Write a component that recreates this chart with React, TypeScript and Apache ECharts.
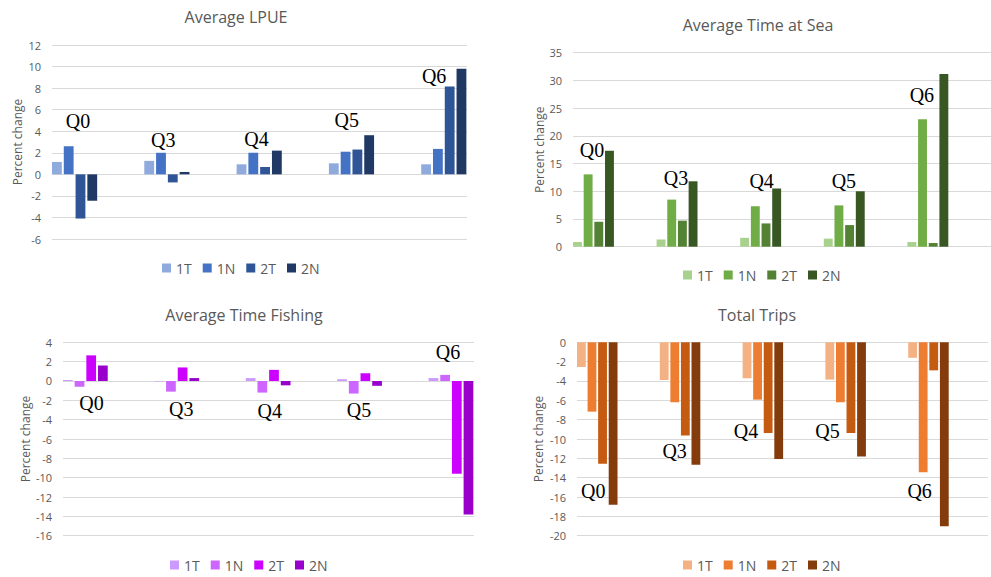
import React, { useEffect, useRef } from "react";
import * as echarts from "echarts";

// ---------- data ----------
const categories = ["Q0", "Q3", "Q4", "Q5", "Q6"];
const seriesNames = ["1T", "1N", "2T", "2N"];

// Average LPUE (percent change)
const lpue1T = [1.15, 1.25, 0.93, 1.02, 0.93];
const lpue1N = [2.6, 2.0, 2.0, 2.1, 2.36];
const lpue2T = [-4.1, -0.75, 0.68, 2.3, 8.14];
const lpue2N = [-2.45, 0.22, 2.2, 3.63, 9.8];

// Average Time at Sea
const sea1T = [0.84, 1.3, 1.6, 1.45, 0.84];
const sea1N = [13.05, 8.5, 7.3, 7.45, 23.0];
const sea2T = [4.5, 4.7, 4.2, 3.9, 0.66];
const sea2N = [17.3, 11.8, 10.5, 10.0, 31.15];

// Average Time Fishing
const fish1T = [0.1, -0.05, 0.3, 0.18, 0.3];
const fish1N = [-0.6, -1.1, -1.2, -1.3, 0.63];
const fish2T = [2.65, 1.4, 1.15, 0.8, -9.6];
const fish2N = [1.6, 0.3, -0.45, -0.5, -13.8];

// Total Trips
const trips1T = [-2.55, -3.9, -3.72, -3.86, -1.6];
const trips1N = [-7.17, -6.2, -5.93, -6.2, -13.45];
const trips2T = [-12.55, -9.65, -9.38, -9.38, -2.9];
const trips2N = [-16.8, -12.65, -12.07, -11.8, -19.03];

// value level at which each Q annotation sits
const lpueLabelY = [4.95, 3.2, 3.3, 5.0, 9.1];
const seaLabelY = [17.5, 12.4, 11.9, 11.9, 27.4];
const fishLabelY = [-2.3, -2.9, -3.15, -3.0, 3.0];
const tripsLabelY = [-15.4, -11.2, -9.15, -9.15, -15.4];

// ---------- layout / style ----------
const panels = [
  {
    key: "lpue", title: "Average LPUE", values: [lpue1T, lpue1N, lpue2T, lpue2N], labelY: lpueLabelY,
    labelDx: [21, 14, 15, 13, 8],
    colors: ["#8FAADC", "#4472C4", "#2F5597", "#203864"],
    min: -6, max: 12, interval: 2,
    left: 52, top: 45, h: 194, band: 92.3, gridW: 415, nameGap: 29,
    titleX: 236, titleTop: 4, legendLeft: 157, legendTop: 256,
  },
  {
    key: "sea", title: "Average Time at Sea", values: [sea1T, sea1N, sea2T, sea2N], labelY: seaLabelY,
    labelDx: [14.5, 15, 17, 15.6, 10],
    colors: ["#A9D18E", "#70AD47", "#548235", "#385723"],
    min: 0, max: 35, interval: 5,
    left: 573, top: 52.7, h: 194, band: 92.2, gridW: 418, nameGap: 28,
    titleX: 758, titleTop: 12, legendLeft: 678, legendTop: 263,
  },
  {
    key: "fish", title: "Average Time Fishing", values: [fish1T, fish1N, fish2T, fish2N], labelY: fishLabelY,
    labelDx: [23.6, 22, 19, 17, 14.6],
    colors: ["#CC99FF", "#CC66FF", "#CC00FF", "#9900CC"],
    min: -16, max: 4, interval: 2,
    left: 63, top: 342.3, h: 193.4, band: 91.4, gridW: 411, nameGap: 32,
    titleX: 244, titleTop: 302, legendLeft: 165, legendTop: 553,
  },
  {
    key: "trips", title: "Total Trips", values: [trips1T, trips1N, trips2T, trips2N], labelY: tripsLabelY,
    labelDx: [11.8, 10.4, -1, -2.4, 7],
    colors: ["#F4B183", "#ED7D31", "#C55A11", "#843C0C"],
    min: -20, max: 0, interval: 2,
    left: 577, top: 342.3, h: 193.4, band: 91.4, gridW: 411, nameGap: 33,
    titleX: 757, titleTop: 302, legendLeft: 678, legendTop: 553,
  },
];

const FONT = "'Open Sans', 'Liberation Sans', sans-serif";
const GREY = "#595959";

function buildOption() {
  const grid: any[] = [];
  const xAxis: any[] = [];
  const yAxis: any[] = [];
  const series: any[] = [];
  const title: any[] = [];
  const legend: any[] = [];

  panels.forEach((p, idx) => {
    const gA = idx * 2;
    const gB = idx * 2 + 1;
    grid.push({ left: p.left, top: p.top, width: p.band * 5, height: p.h, containLabel: false });
    grid.push({ left: p.left, top: p.top, width: p.gridW, height: p.h, containLabel: false });

    xAxis.push({ gridIndex: gA, type: "category", data: categories, show: false });
    xAxis.push({ gridIndex: gB, type: "category", data: categories, show: false });

    yAxis.push({ gridIndex: gA, type: "value", min: p.min, max: p.max, interval: p.interval, show: false });
    yAxis.push({
      gridIndex: gB, type: "value", min: p.min, max: p.max, interval: p.interval,
      name: "Percent change", nameLocation: "middle", nameGap: p.nameGap,
      nameTextStyle: { color: GREY, fontSize: 12, fontFamily: FONT },
      axisLine: { show: false }, axisTick: { show: false },
      axisLabel: { color: GREY, fontSize: 11, fontFamily: FONT, margin: 11 },
      splitLine: { show: true, lineStyle: { color: "#D9D9D9", width: 1 } },
    });

    p.values.forEach((vals, si) => {
      const s: any = {
        type: "bar",
        name: `${p.key}|${seriesNames[si]}`,
        xAxisIndex: gA, yAxisIndex: gA,
        data: vals,
        barGap: "20%",
        barCategoryGap: "0%",
        itemStyle: { color: p.colors[si] },
      };
      if (si === 0) {
        s.markPoint = {
          silent: true,
          symbol: "rect",
          symbolSize: 0,
          itemStyle: { color: "rgba(0,0,0,0)" },
          label: {
            show: true, position: "inside", color: "#000",
            fontFamily: "'Liberation Serif', 'DejaVu Serif', serif", fontSize: 20,
            formatter: (d: any) => d.name,
          },
          data: categories.map((c, i) => ({
            name: c,
            coord: [c, p.labelY[i]],
            label: { offset: [p.labelDx[i], 0] },
          })),
        };
      }
      series.push(s);
    });
    // empty slots so that the visible cluster sits in the left half of each category
    for (let k = 0; k < 4; k++) {
      series.push({
        type: "bar", name: `${p.key}|pad${k}`, xAxisIndex: gA, yAxisIndex: gA,
        data: categories.map(() => "-"), barGap: "20%", barCategoryGap: "0%",
      });
    }

    title.push({
      text: p.title, left: p.titleX - 5, top: p.titleTop, textAlign: "center",
      textStyle: { color: GREY, fontSize: 16, fontWeight: "normal", fontFamily: FONT },
    });
    legend.push({
      left: p.legendLeft, top: p.legendTop, orient: "horizontal",
      data: seriesNames.map((n) => `${p.key}|${n}`),
      formatter: (name: string) => name.split("|")[1],
      icon: "rect", itemWidth: 9, itemHeight: 9, itemGap: 11,
      selectedMode: false,
      textStyle: { color: GREY, fontSize: 14, fontFamily: FONT },
    });
  });

  return {
    animation: false,
    backgroundColor: "#FFFFFF",
    title, legend, grid, xAxis, yAxis, series,
  };
}

export default function App() {
  const ref = useRef<HTMLDivElement>(null);
  useEffect(() => {
    if (!ref.current) return;
    const chart = echarts.init(ref.current, undefined, { renderer: "svg" });
    chart.setOption(buildOption() as any);
    return () => chart.dispose();
  }, []);
  return (
    <div
      ref={ref}
      style={{ position: "fixed", left: 0, top: 0, width: 991, height: 577, background: "#fff" }}
    />
  );
}
